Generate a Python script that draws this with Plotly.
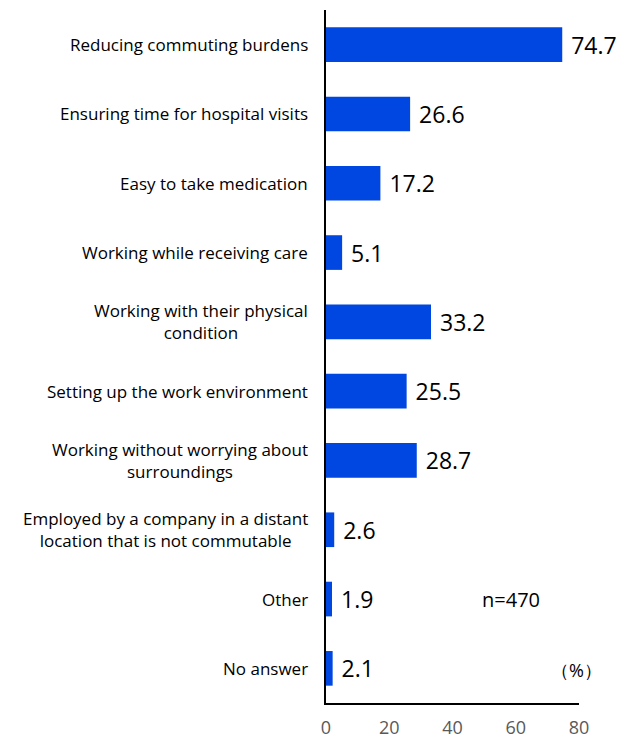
import plotly.graph_objects as go

categories = [
    "Reducing commuting burdens",
    "Ensuring time for hospital visits",
    "Easy to take medication",
    "Working while receiving care",
    "Working with their physical<br>condition",
    "Setting up the work environment",
    "Working without worrying about<br>surroundings",
    "Employed by a company in a distant<br>location that is not commutable",
    "Other",
    "No answer",
]
values = [74.7, 26.6, 17.2, 5.1, 33.2, 25.5, 28.7, 2.6, 1.9, 2.1]
x_ticks = [0, 20, 40, 60, 80]

BAR_COLOR = "#0046E0"
FONT = "Open Sans, sans-serif"

fig = go.Figure(
    go.Bar(
        x=values,
        y=categories,
        orientation="h",
        marker=dict(color=BAR_COLOR, line=dict(width=0)),
        width=0.5,
        text=[f" {v:.1f}" for v in values],
        textposition="outside",
        textfont=dict(size=23, color="#000000", family=FONT),
        cliponaxis=False,
    )
)

# Category labels with centered lines, placed left of the axis
for cat in categories:
    fig.add_annotation(
        x=0, xref="paper", y=cat, yref="y",
        text=cat, showarrow=False,
        xanchor="right", yanchor="middle", align="center",
        xshift=-16,
        font=dict(size=17, color="#000000", family=FONT),
    )

fig.add_annotation(
    x=0.731, xref="paper", y="Other", yref="y",
    text="n=470", showarrow=False, xanchor="center", yanchor="middle",
    font=dict(size=20, color="#000000", family=FONT),
)
fig.add_annotation(
    x=0.99, xref="paper", y="No answer", yref="y",
    text="（%）", showarrow=False, xanchor="center", yanchor="middle",
    yshift=-2,
    font=dict(size=18, color="#000000", family=FONT),
)

fig.update_layout(
    width=622, height=740,
    margin=dict(l=326, r=43, t=10, b=37),
    plot_bgcolor="white", paper_bgcolor="white",
    showlegend=False,
    bargap=0.5,
    xaxis=dict(
        range=[0, 80], tickvals=x_ticks, showgrid=False, zeroline=False,
        showline=True, linecolor="#000000", linewidth=2, ticks="",
        tickfont=dict(size=18, color="#595959", family=FONT),
        ticklabelstandoff=7, automargin=False,
    ),
    yaxis=dict(
        autorange="reversed", showticklabels=False, showgrid=False,
        showline=True, linecolor="#000000", linewidth=2, ticks="",
        zeroline=False, automargin=False,
    ),
)

fig.write_html("out.html")
